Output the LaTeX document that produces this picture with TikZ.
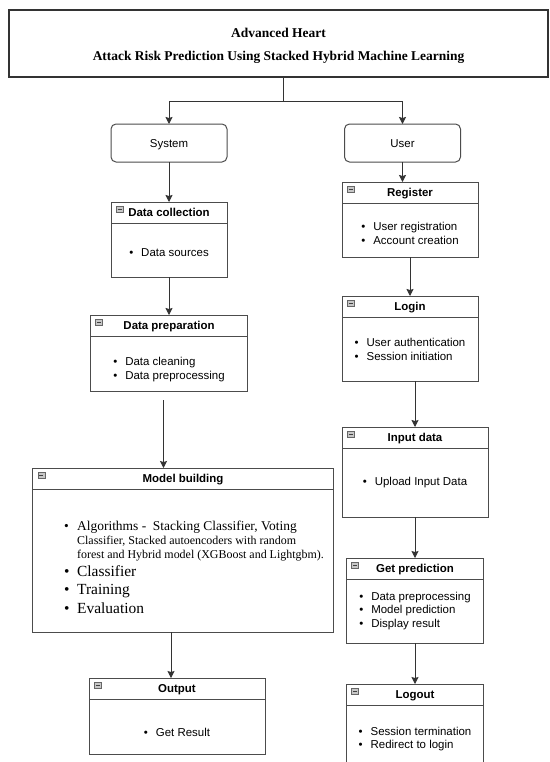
\documentclass[tikz,border=0pt]{standalone}
\usepackage{fontspec}
\setmainfont{Liberation Sans}
\newfontfamily\serifttl{Liberation Serif}
\usetikzlibrary{positioning,arrows.meta}

\newcommand{\itembul}[1][12bp]{\makebox[#1][l]{\textbullet}}

\begin{document}
\begin{tikzpicture}[
        x=1bp, y=-1bp,
        font=\fontsize{11.5}{14}\selectfont,
        >={Stealth[length=7bp, width=7bp, inset=1bp]},
        conn/.style={->, draw=black!80, line width=1bp},
        boxline/.style={rectangle, draw=black!70, line width=1bp, inner sep=0pt, outer sep=0pt},
        rolebox/.style={boxline, rounded corners=5bp, minimum width=116bp, minimum height=38bp,
            text height=8bp, text depth=0bp},
        cardhead/.style={boxline, minimum width=#1, minimum height=21bp,
            text height=8bp, text depth=0bp,
            font=\fontsize{11.5}{14}\selectfont\bfseries,
            path picture={
                \draw[black!60, fill=black!22, line width=0.5bp]
                    ([xshift=5bp, yshift=-4bp]path picture bounding box.north west) rectangle ++(7bp,-6.5bp);
                \draw[black!75, line width=0.8bp]
                    ([xshift=6.5bp, yshift=-7.25bp]path picture bounding box.north west) -- ++(4bp,0bp);
            }},
        cardbody/.style={boxline, minimum width=#1, align=left},
    ]
    \clip (0,0) rectangle (550,762);
    \fill[white] (0,0) rectangle (550,762);

    \node[boxline, line width=1.3bp, draw=black!80, minimum width=539bp, minimum height=67bp, align=center,
          font=\fontsize{13.5}{23}\selectfont\serifttl\bfseries] (title) at (278.5,43.5)
        {\rule{0pt}{14.5bp}Advanced Heart\\Attack Risk Prediction Using Stacked Hybrid Machine Learning};
    \coordinate (fork) at (283,101);

    \node[rolebox] (sys) at (169,143) {System};
    \node[rolebox] (user) at (402.5,143) {User};

    % system side
    \node[cardhead=116bp, below=40bp of sys] (coll) {Data collection};
    \node[cardbody=116bp, minimum height=54bp, below=0pt of coll] (collb) {\rule{0pt}{14bp}\itembul Data sources};

    \node[cardhead=157bp, below=38bp of collb] (prep) {Data preparation};
    \node[cardbody=157bp, minimum height=55bp, below=0pt of prep] (prepb)
        {\rule{0pt}{20bp}\itembul Data cleaning\\\itembul Data preprocessing};

    \node[cardhead=300bp, below=77bp of prepb, xshift=14bp] (model) {Model building};
    \node[cardbody=300bp, minimum height=143bp, below=0pt of model,
          font=\fontsize{12}{14}\selectfont\serifttl] (modelb)
        {\rule{0pt}{23bp}\hspace*{22bp}{\fontsize{13.5}{14}\selectfont\itembul[13bp]Algorithms -\ \ Stacking Classifier, Voting}\\[1bp]
         \hspace*{35bp}Classifier, Stacked autoencoders with random\\
         \hspace*{35bp}forest and Hybrid model (XGBoost and Lightgbm).\\[4bp]
         \hspace*{22bp}{\fontsize{15.5}{14}\selectfont\itembul[13bp]Classifier}\\[4bp]
         \hspace*{22bp}{\fontsize{15.5}{14}\selectfont\itembul[13bp]Training}\\[4bp]
         \hspace*{22bp}{\fontsize{15.5}{14}\selectfont\itembul[13bp]Evaluation}};

    \node[cardhead=176bp, below=46bp of modelb, xshift=-6bp] (outp) {Output};
    \node[cardbody=176bp, minimum height=55bp, below=0pt of outp] (outpb) {\rule{0pt}{20bp}\itembul Get Result};

    % user side
    \node[cardhead=136bp, below=20bp of user, xshift=7.5bp] (reg) {Register};
    \node[cardbody=136bp, minimum height=54bp, below=0pt of reg] (regb)
        {\rule{0pt}{16bp}\itembul User registration\\\itembul Account creation};

    \node[cardhead=136bp, below=39bp of regb] (login) {Login};
    \node[cardbody=136bp, minimum height=64bp, below=0pt of login] (loginb)
        {\itembul User authentication\\\itembul Session initiation};

    \node[cardhead=146bp, below=46bp of loginb, xshift=5bp] (inp) {Input data};
    \node[cardbody=146bp, minimum height=69bp, below=0pt of inp] (inpb) {\itembul Upload Input Data};

    \node[cardhead=137bp, below=41bp of inpb] (pred) {Get prediction};
    \node[cardbody=137bp, minimum height=64bp, below=0pt of pred] (predb)
        {\itembul Data preprocessing\\\itembul Model prediction\\\itembul Display result};

    \node[cardhead=137bp, below=41bp of predb] (logout) {Logout};
    \node[cardbody=137bp, minimum height=68bp, below=0pt of logout] (logoutb)
        {\itembul Session termination\\\itembul Redirect to login};

    % connectors
    \coordinate (prepout) at ([xshift=-5.5bp, yshift=-9bp]prepb.south);
    \coordinate (modelout) at ([xshift=-12bp]modelb.south);

    \draw[conn, -] (title.south -| fork) -- (fork);
    \draw[conn] (fork) -| (sys.north);
    \draw[conn] (fork) -| (user.north);
    \draw[conn] (sys.south) -- (coll.north);
    \draw[conn] (collb.south) -- (collb.south |- prep.north);
    \draw[conn] (prepout) -- (prepout |- model.north);
    \draw[conn] (modelout) -- (modelout |- outp.north);
    \draw[conn] (user.south) -- (user.south |- reg.north);
    \draw[conn] (regb.south) -- (login.north);
    \draw[conn] (loginb.south -| inp.north) -- (inp.north);
    \draw[conn] (inpb.south) -- (pred.north);
    \draw[conn] (predb.south) -- (logout.north);
\end{tikzpicture}
\end{document}
